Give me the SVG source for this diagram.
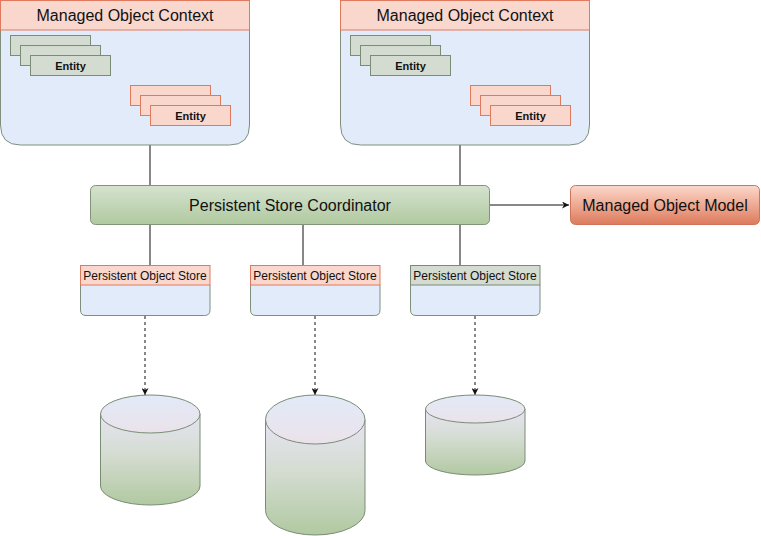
<svg xmlns="http://www.w3.org/2000/svg" width="761" height="536" viewBox="0 0 761 536">
<style>
text{font-family:"Liberation Sans",Arial,sans-serif;fill:#111;text-anchor:middle;dominant-baseline:central}
.hdr{fill:#fad7cc;stroke:#e07a5f;stroke-width:1}
.body{fill:#e1ebf9;stroke:#7f8f7c;stroke-width:1}
.eg{fill:#d4dcd1;stroke:#7a8c75;stroke-width:1}
.eo{fill:#fad7cc;stroke:#e07a5f;stroke-width:1}
.ent{font-size:11px;font-weight:bold}
.big{font-size:16px}
.pos{font-size:12px}
.cyl{fill:url(#gCyl);stroke:#7a8c75;stroke-width:1}
.cyltop{fill:url(#gTop);stroke:#7a8c75;stroke-width:1}
.ln{stroke:#111;stroke-width:1;fill:none}
.dash{stroke:#111;stroke-width:1;fill:none;stroke-dasharray:3 3}
</style>
<defs>
<linearGradient id="gPsc" x1="0" y1="0" x2="0" y2="1">
<stop offset="0" stop-color="#d5e3cf"/>
<stop offset="1" stop-color="#b0c99f"/>
</linearGradient>
<linearGradient id="gMom" x1="0" y1="0" x2="0" y2="1">
<stop offset="0" stop-color="#fbd8cc"/>
<stop offset="0.55" stop-color="#eda58d"/>
<stop offset="1" stop-color="#dc7a5c"/>
</linearGradient>
<linearGradient id="gCyl" x1="0" y1="0" x2="0" y2="1">
<stop offset="0" stop-color="#e6e4f2"/>
<stop offset="0.45" stop-color="#d4dcd1"/>
<stop offset="1" stop-color="#b1c9a1"/>
</linearGradient>
<linearGradient id="gTop" x1="0" y1="0" x2="0" y2="1">
<stop offset="0" stop-color="#e2eaf8"/>
<stop offset="1" stop-color="#ebe2ea"/>
</linearGradient>
<marker id="arr" viewBox="0 0 10 10" refX="10" refY="5" markerWidth="7" markerHeight="7" orient="auto" markerUnits="userSpaceOnUse">
<path d="M0,0 L10,5 L0,10 L3,5 Z" fill="#111"/>
</marker>
</defs>

<g id="connectors">
<line class="ln" x1="150" y1="145" x2="150" y2="185"/>
<line class="ln" x1="460" y1="145" x2="460" y2="185"/>
<line class="ln" x1="150" y1="225" x2="150" y2="265"/>
<line class="ln" x1="303" y1="225" x2="303" y2="265"/>
<line class="ln" x1="460" y1="225" x2="460" y2="265"/>
<line class="ln" x1="490" y1="205" x2="569" y2="205" marker-end="url(#arr)"/>
<line class="dash" x1="145" y1="316" x2="145" y2="395" marker-end="url(#arr)"/>
<line class="dash" x1="315" y1="316" x2="315" y2="395" marker-end="url(#arr)"/>
<line class="dash" x1="475" y1="316" x2="475" y2="395" marker-end="url(#arr)"/>
</g>

<g id="moc1">
<path class="body" d="M0.5,30 L0.5,125 Q0.5,145 20.5,145 L229.5,145 Q249.5,145 249.5,125 L249.5,30"/>
<rect class="hdr" x="0.5" y="0.5" width="249" height="29.5"/>
<text class="big" x="125" y="15">Managed Object Context</text>
<g id="moc1-ents-green">
<rect class="eg" x="10.5" y="35.5" width="80" height="20"/>
<rect class="eg" x="20.5" y="45.5" width="80" height="20"/>
<rect class="eg" x="30.5" y="55.5" width="80" height="20"/>
<text class="ent" x="70.5" y="65.5">Entity</text>
</g>
<g id="moc1-ents-orange">
<rect class="eo" x="130.5" y="85.5" width="80" height="20"/>
<rect class="eo" x="140.5" y="95.5" width="80" height="20"/>
<rect class="eo" x="150.5" y="105.5" width="80" height="20"/>
<text class="ent" x="190.5" y="115.5">Entity</text>
</g>
</g>

<g id="moc2">
<path class="body" d="M340.5,30 L340.5,125 Q340.5,145 360.5,145 L569.5,145 Q589.5,145 589.5,125 L589.5,30"/>
<rect class="hdr" x="340.5" y="0.5" width="249" height="29.5"/>
<text class="big" x="465" y="15">Managed Object Context</text>
<g id="moc2-ents-green">
<rect class="eg" x="350.5" y="35.5" width="80" height="20"/>
<rect class="eg" x="360.5" y="45.5" width="80" height="20"/>
<rect class="eg" x="370.5" y="55.5" width="80" height="20"/>
<text class="ent" x="410.5" y="65.5">Entity</text>
</g>
<g id="moc2-ents-orange">
<rect class="eo" x="470.5" y="85.5" width="80" height="20"/>
<rect class="eo" x="480.5" y="95.5" width="80" height="20"/>
<rect class="eo" x="490.5" y="105.5" width="80" height="20"/>
<text class="ent" x="530.5" y="115.5">Entity</text>
</g>
</g>

<g id="psc">
<rect x="90.5" y="185.5" width="399" height="39" rx="5" fill="url(#gPsc)" stroke="#82937c"/>
<text class="big" x="290" y="205">Persistent Store Coordinator</text>
</g>

<g id="mom">
<rect x="570.5" y="185.5" width="189" height="39" rx="5" fill="url(#gMom)" stroke="#d0735a"/>
<text class="big" x="665" y="205">Managed Object Model</text>
</g>

<g id="pos1">
<path class="body" d="M80.5,285 L80.5,310 Q80.5,315.5 86,315.5 L204.5,315.5 Q210,315.5 210,310 L210,285"/>
<rect class="hdr" x="80.5" y="265.5" width="129.5" height="19.5"/>
<text class="pos" x="145" y="275.5">Persistent Object Store</text>
</g>
<g id="pos2">
<path class="body" d="M250.5,285 L250.5,310 Q250.5,315.5 256,315.5 L374.5,315.5 Q380,315.5 380,310 L380,285"/>
<rect class="hdr" x="250.5" y="265.5" width="129.5" height="19.5"/>
<text class="pos" x="315" y="275.5">Persistent Object Store</text>
</g>
<g id="pos3">
<path class="body" d="M410.5,285 L410.5,310 Q410.5,315.5 416,315.5 L534.5,315.5 Q540,315.5 540,310 L540,285"/>
<rect x="410.5" y="265.5" width="129.5" height="19.5" fill="#d4dcd1" stroke="#7a8c75"/>
<text class="pos" x="475" y="275.5">Persistent Object Store</text>
</g>

<g id="db1">
<path class="cyl" d="M100.5,414 L100.5,486 A49.75,19 0 0 0 200,486 L200,414"/>
<ellipse class="cyltop" cx="150.25" cy="414" rx="49.75" ry="19"/>
</g>
<g id="db2">
<path class="cyl" d="M265.5,419.5 L265.5,510.5 A49.75,24.5 0 0 0 365,510.5 L365,419.5"/>
<ellipse class="cyltop" cx="315.25" cy="419.5" rx="49.75" ry="24.5"/>
</g>
<g id="db3">
<path class="cyl" d="M425.5,409 L425.5,461 A49.75,14 0 0 0 525,461 L525,409"/>
<ellipse class="cyltop" cx="475.25" cy="409" rx="49.75" ry="14"/>
</g>
</svg>
